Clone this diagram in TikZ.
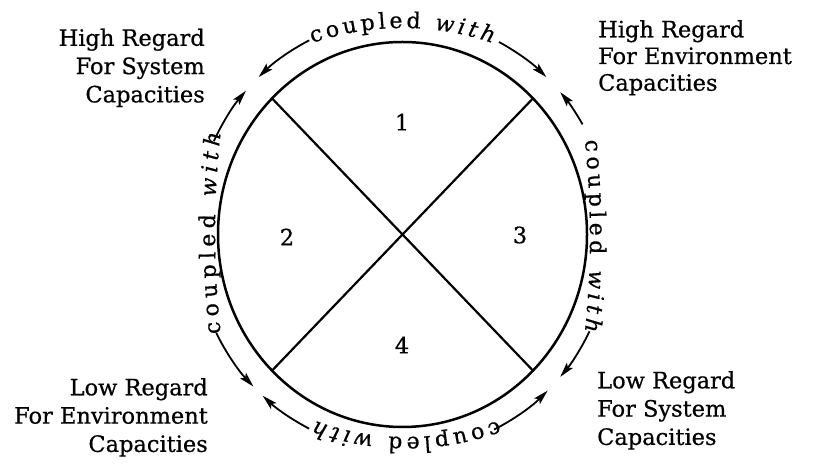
\documentclass[tikz,border=0pt]{standalone}
\usepackage{fontspec}
\setmainfont{DejaVu Serif}
\usetikzlibrary{arrows.meta,decorations.text}
\newfontfamily\cwf[FakeBold=0.6]{DejaVu Serif}
\newcommand\cwup{\cwf\fontsize{22}{22}\selectfont}
\newcommand\cwit{\cwf\itshape\fontsize{22}{22}\selectfont}
\begin{document}
\begin{tikzpicture}[x=1pt,y=1pt,
  ring/.style={line width=2.5pt},
  cross/.style={line width=2.2pt},
  arr/.style={line width=1.8pt, -{Stealth[length=15pt,width=8pt,inset=3pt]}},
  lab/.style={inner sep=0pt, font=\cwf\fontsize{22.5}{28.3}\selectfont},
  num/.style={inner sep=0pt, font=\cwf\fontsize{22.5}{22.5}\selectfont},
  cw/.style={decorate, decoration={text along path, text align=fit to path, text={|\cwup|coupled |\cwit|with}}}
]
\useasboundingbox (0,0) rectangle (813,468);
\coordinate (C) at (402.5,233.5);
% centres of the arcs that carry the texts
\coordinate (Ttop) at (402.5,163);
\coordinate (Tbot) at (406.5,296);
\coordinate (Tlft) at (1115,235);
\coordinate (Trgt) at (-310,232);
% main circle and cross
\draw[ring] (C) ellipse[x radius=184.5pt, y radius=192.5pt];
\coordinate (ne) at ([shift={(45:184.5pt and 192.5pt)}]C);
\coordinate (nw) at ([shift={(135:184.5pt and 192.5pt)}]C);
\coordinate (sw) at ([shift={(225:184.5pt and 192.5pt)}]C);
\coordinate (se) at ([shift={(315:184.5pt and 192.5pt)}]C);
\draw[cross] (nw) -- (se);
\draw[cross] (ne) -- (sw);
% arrows on outer ring
\draw[arr] ([shift={(116.5:209pt and 217pt)}]C) arc[start angle=116.5, end angle=133.5, x radius=209pt, y radius=217pt];
\draw[arr] ([shift={(62.5:209pt and 217pt)}]C) arc[start angle=62.5, end angle=46.5, x radius=209pt, y radius=217pt];
\draw[arr] ([shift={(30.5:209pt and 217pt)}]C) arc[start angle=30.5, end angle=41, x radius=209pt, y radius=217pt];
\draw[arr] ([shift={(-26.5:209pt and 217pt)}]C) arc[start angle=-26.5, end angle=-41, x radius=209pt, y radius=217pt];
\draw[arr] ([shift={(-64:209pt and 217pt)}]C) arc[start angle=-64, end angle=-46, x radius=209pt, y radius=217pt];
\draw[arr] ([shift={(243.5:209pt and 217pt)}]C) arc[start angle=243.5, end angle=228, x radius=209pt, y radius=217pt];
\draw[arr] ([shift={(207:209pt and 217pt)}]C) arc[start angle=207, end angle=224.5, x radius=209pt, y radius=217pt];
\draw[arr] ([shift={(154.5:209pt and 217pt)}]C) arc[start angle=154.5, end angle=138.5, x radius=209pt, y radius=217pt];
% coupled with texts
\path[cw] ([shift={(109:277pt)}]Ttop) arc[start angle=109, end angle=71, radius=277pt];
\path[cw] ([shift={(6.1:900pt)}]Trgt) arc[start angle=6.1, end angle=-6.1, radius=900pt];
\path[cw] ([shift={(-69.8:265pt)}]Tbot) arc[start angle=-69.8, end angle=-110.2, radius=265pt];
\path[cw] ([shift={(186.4:900pt)}]Tlft) arc[start angle=186.4, end angle=173.6, radius=900pt];
% labels
\node[lab, anchor=north east, align=right] (hs) at (205,439.5) {High Regard\\For System\\Capacities};
\node[lab, anchor=north west, align=left, font=\cwf\fontsize{22.5}{26.7}\selectfont] (he) at (598,448) {High Regard\\For Environment\\Capacities};
\node[lab, anchor=north east, align=right] (le) at (208,90) {Low Regard\\For Environment\\Capacities};
\node[lab, anchor=north west, align=left] (ls) at (597,97) {Low Regard\\For System\\Capacities};
% quadrant numbers
\node[num] (n1) at (402,346) {1};
\node[num] (n2) at (287,231) {2};
\node[num] (n3) at (520,233) {3};
\node[num] (n4) at (402,123) {4};
\end{tikzpicture}
\end{document}
